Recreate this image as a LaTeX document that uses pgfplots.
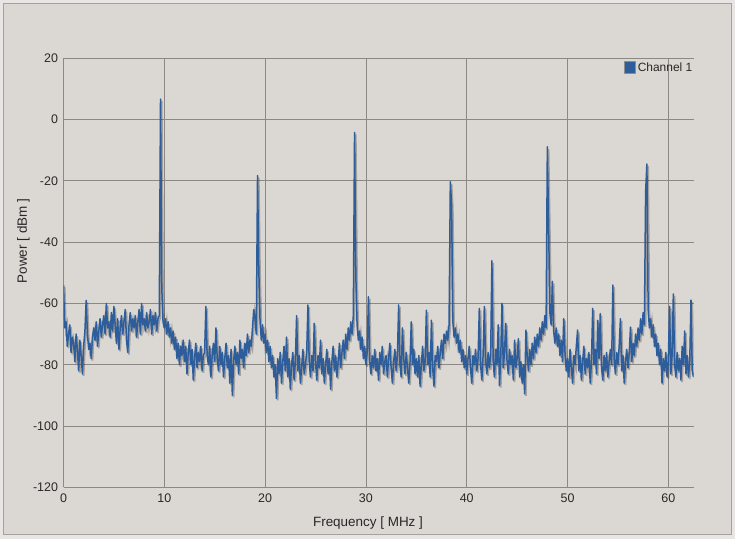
\documentclass[border=0pt]{standalone}
\usepackage{fontspec}
\setmainfont{Liberation Sans}
\usepackage{pgfplots}
\usepackage{pgfplotstable}
\pgfplotsset{compat=1.18}
\definecolor{bg}{RGB}{219,215,211}
\definecolor{outer}{RGB}{232,230,228}
\definecolor{frame}{RGB}{165,161,157}
\definecolor{gridc}{RGB}{140,136,132}
\definecolor{trace}{RGB}{45,93,155}
\definecolor{txt}{RGB}{40,40,40}

\pgfplotstableread[header=false,row sep=\\]{
-54\\ -68\\ -66\\ -74\\ -70\\ -67\\ -76\\ -71\\
-73\\ -79\\ -70\\ -75\\ -82\\ -72\\ -77\\ -83\\
-74\\ -69\\ -59\\ -70\\ -75\\ -73\\ -78\\ -71\\
-68\\ -72\\ -66\\ -74\\ -69\\ -65\\ -71\\ -67\\
-64\\ -70\\ -60\\ -68\\ -66\\ -71\\ -63\\ -69\\
-61\\ -67\\ -73\\ -65\\ -75\\ -68\\ -64\\ -70\\
-66\\ -62\\ -72\\ -76\\ -67\\ -63\\ -69\\ -65\\
-68\\ -64\\ -71\\ -66\\ -62\\ -70\\ -60\\ -67\\
-65\\ -69\\ -63\\ -68\\ -66\\ -62\\ -70\\ -64\\
-67\\ -63\\ -69\\ -65\\ -64\\ 6.7\\ -55\\ -66\\
-68\\ -65\\ -70\\ -66\\ -71\\ -68\\ -73\\ -69\\
-75\\ -71\\ -78\\ -73\\ -80\\ -74\\ -77\\ -72\\
-79\\ -74\\ -83\\ -76\\ -72\\ -80\\ -75\\ -85\\
-78\\ -73\\ -81\\ -76\\ -79\\ -74\\ -82\\ -77\\
-76\\ -61\\ -77\\ -80\\ -74\\ -84\\ -77\\ -73\\
-79\\ -68\\ -78\\ -82\\ -74\\ -80\\ -76\\ -84\\
-78\\ -73\\ -81\\ -77\\ -86\\ -75\\ -90\\ -79\\
-74\\ -80\\ -76\\ -83\\ -72\\ -78\\ -75\\ -81\\
-73\\ -77\\ -70\\ -76\\ -72\\ -74\\ -68\\ -62\\
-65\\ -70\\ -18.3\\ -49\\ -66\\ -72\\ -67\\ -73\\
-70\\ -76\\ -72\\ -79\\ -74\\ -81\\ -77\\ -84\\
-80\\ -91\\ -78\\ -83\\ -76\\ -86\\ -79\\ -74\\
-82\\ -71\\ -84\\ -78\\ -88\\ -80\\ -76\\ -85\\
-79\\ -64\\ -82\\ -77\\ -86\\ -81\\ -75\\ -83\\
-80\\ -76\\ -60.5\\ -79\\ -84\\ -77\\ -82\\ -66.5\\
-79\\ -85\\ -77\\ -81\\ -72\\ -83\\ -78\\ -86\\
-80\\ -75\\ -83\\ -78\\ -88\\ -79\\ -74\\ -82\\
-77\\ -84\\ -79\\ -73\\ -81\\ -76\\ -72\\ -78\\
-70\\ -75\\ -68\\ -72\\ -66\\ -70\\ -64\\ -4.2\\
-51\\ -67\\ -72\\ -69\\ -75\\ -71\\ -78\\ -74\\
-80\\ -76\\ -57.8\\ -79\\ -83\\ -77\\ -81\\ -75\\
-82\\ -78\\ -85\\ -76\\ -80\\ -74\\ -83\\ -79\\
-77\\ -84\\ -78\\ -73\\ -81\\ -86\\ -79\\ -75\\
-82\\ -77\\ -60.5\\ -80\\ -84\\ -68\\ -78\\ -83\\
-76\\ -81\\ -86\\ -79\\ -66\\ -80\\ -75\\ -83\\
-78\\ -84\\ -77\\ -87\\ -80\\ -74\\ -82\\ -79\\
-62.2\\ -80\\ -76\\ -84\\ -65.5\\ -81\\ -87\\ -77\\
-79\\ -74\\ -81\\ -76\\ -72\\ -78\\ -70\\ -73\\
-69\\ -72\\ -67\\ -20.3\\ -27.9\\ -66\\ -71\\ -68\\
-73\\ -70\\ -76\\ -72\\ -79\\ -75\\ -81\\ -77\\
-83\\ -78\\ -74\\ -81\\ -86\\ -77\\ -80\\ -75\\
-82\\ -78\\ -61.6\\ -80\\ -85\\ -77\\ -61\\ -79\\
-83\\ -76\\ -81\\ -77\\ -46.1\\ -79\\ -84\\ -75\\
-80\\ -67\\ -86.8\\ -78\\ -60\\ -81\\ -76\\ -66.5\\
-79\\ -83\\ -75\\ -80\\ -77\\ -85\\ -72\\ -81\\
-78\\ -71.5\\ -84\\ -79\\ -86\\ -80\\ -89.5\\ -68.7\\
-77\\ -82\\ -75\\ -80\\ -73\\ -78\\ -71\\ -76\\
-70\\ -74\\ -68\\ -72\\ -66\\ -70\\ -64\\ -68\\
-8.9\\ -34.6\\ -63\\ -67\\ -52.8\\ -69\\ -73\\ -68\\
-74\\ -70\\ -77\\ -72\\ -79\\ -65\\ -76\\ -82\\
-78\\ -84\\ -75\\ -81\\ -86\\ -77\\ -80\\ -74\\
-68.7\\ -82\\ -77\\ -85\\ -79\\ -74\\ -83\\ -78\\
-81\\ -76\\ -86\\ -79\\ -61.6\\ -80\\ -75\\ -83\\
-65.5\\ -78\\ -63.3\\ -81\\ -85\\ -77\\ -82\\ -76\\
-84\\ -79\\ -75\\ -80\\ -54\\ -78\\ -83\\ -76\\
-80\\ -74\\ -65\\ -82\\ -77\\ -86\\ -79\\ -75\\
-81\\ -76\\ -67.7\\ -79\\ -73\\ -77\\ -70\\ -74\\
-68\\ -72\\ -65\\ -70\\ -63\\ -67\\ -23.5\\ -14.5\\
-62\\ -68\\ -65\\ -71\\ -67\\ -74\\ -70\\ -77\\
-73\\ -80\\ -75\\ -86\\ -78\\ -82\\ -76\\ -84\\
-79\\ -61\\ -83\\ -77\\ -56.9\\ -80\\ -84\\ -76\\
-82\\ -78\\ -85\\ -74\\ -80\\ -69\\ -83\\ -77\\
-84\\ -79\\ -58.9\\ -82\\ -84\\
}\spectrum

\begin{document}
\begin{tikzpicture}[x=1bp,y=1bp]
\fill[outer] (0,0) rectangle (735,539);
\fill[bg] (3.5,4) rectangle (731.5,535);
\draw[frame, line width=1bp] (3.5,4) rectangle (731.5,535);
\begin{axis}[
  at={(63.5bp,51.7bp)}, anchor=south west,
  scale only axis, width=630bp, height=429bp,
  xmin=0, xmax=62.5, ymin=-120, ymax=20,
  xtick={0,10,...,60}, ytick={-120,-100,...,20},
  axis x line*=bottom, axis y line*=left,
  axis line style={gridc, line width=0.8bp, -},
  grid=major, major grid style={gridc, line width=0.8bp},
  major tick length=0pt,
  tick label style={font=\fontsize{12.5}{14}\selectfont, text=txt},
  /pgf/number format/assume math mode=true,
  xticklabel style={yshift=-3bp},
  yticklabel style={xshift=-2bp},
  legend style={at={(1,1)}, anchor=north east, draw=none, fill=none,
    font=\fontsize{12}{14}\selectfont, text=txt, inner sep=0pt,
    yshift=-2bp, xshift=1bp},
  legend image code/.code={\draw[fill=trace, draw=gray!90, line width=0.6bp] (-3bp,-5.8bp) rectangle (8.7bp,5.8bp);},
]
\addplot[black, opacity=0.25, line width=1.8bp, xshift=1.2bp, yshift=-2bp, forget plot]
  table[x expr=\coordindex*0.125, y index=0] {\spectrum};
\addplot[trace, line width=1.5bp, line join=round]
  table[x expr=\coordindex*0.125, y index=0] {\spectrum};
\addlegendentry{Channel 1}
\end{axis}
\node[rotate=90, font=\fontsize{13.5}{15}\selectfont, text=txt] at (23.5,298) {Power [ dBm ]};
\node[font=\fontsize{13.5}{15}\selectfont, text=txt] at (368,16) {Frequency [ MHz ]};
\end{tikzpicture}
\end{document}
